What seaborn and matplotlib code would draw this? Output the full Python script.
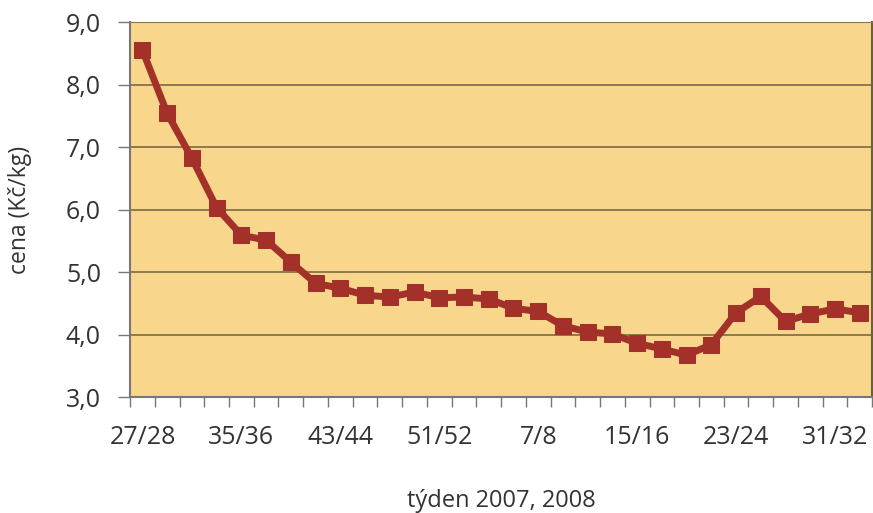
import numpy as np
import matplotlib
matplotlib.use("Agg")
import matplotlib.pyplot as plt
import seaborn as sns
import pandas as pd
from matplotlib.ticker import FixedLocator, FuncFormatter

# dvojtydny 27/28 (2007) az 33/34 (2008)
weeks = ["27/28", "29/30", "31/32", "33/34", "35/36", "37/38", "39/40", "41/42",
         "43/44", "45/46", "47/48", "49/50", "51/52", "1/2", "3/4", "5/6",
         "7/8", "9/10", "11/12", "13/14", "15/16", "17/18", "19/20", "21/22",
         "23/24", "25/26", "27/28", "29/30", "31/32", "33/34"]
price = [8.55, 7.54, 6.82, 6.03, 5.59, 5.51, 5.16, 4.82, 4.74, 4.63,
         4.60, 4.68, 4.59, 4.60, 4.57, 4.42, 4.37, 4.14, 4.04, 4.01,
         3.86, 3.77, 3.67, 3.84, 4.35, 4.61, 4.21, 4.33, 4.41, 4.35]
label_step = 4

df = pd.DataFrame({"idx": np.arange(len(weeks)), "week": weeks, "cena": price})

sns.set_style("white")
plt.rcParams["font.family"] = ["Open Sans", "DejaVu Sans"]

fig = plt.figure(figsize=(8.73, 5.13), dpi=100)
ax = fig.add_axes([0.149, 0.226, 0.850, 0.731])
ax.set_facecolor("#F8D78C")

ax.grid(False)
for yv in range(4, 9):
    ax.axhline(yv, color="#6E5F3C", lw=1.1, zorder=1)

sns.lineplot(data=df, x="idx", y="cena", ax=ax, color="#A4302A", lw=5,
             marker="s", markersize=12, markeredgecolor="#A4302A", zorder=3)

ax.set_xlim(-0.5, len(weeks) - 0.5)
ax.set_ylim(3, 9)
ax.set_yticks(np.arange(3, 10, 1))
ax.yaxis.set_major_formatter(FuncFormatter(lambda v, p: f"{v:.1f}".replace(".", ",")))

# popisky jen u kazdeho ctvrteho dvojtydne
label_pos = list(range(0, len(weeks) - 1, label_step))
ax.set_xticks(label_pos)
ax.set_xticklabels([weeks[i] for i in label_pos])
ax.xaxis.set_minor_locator(FixedLocator(np.arange(-0.5, len(weeks), 1)))
ax.tick_params(axis="x", which="major", length=0, pad=20, labelsize=18, labelcolor="#333333")
ax.tick_params(axis="x", which="minor", length=7, width=1, color="#777777", direction="out", bottom=True)
ax.tick_params(axis="y", which="major", length=9, width=1, color="#777777", direction="out", left=True,
               labelsize=18, labelcolor="#333333", pad=12)

for s in ["left", "bottom"]:
    ax.spines[s].set_color("#777777")
    ax.spines[s].set_linewidth(1.5)
ax.spines["top"].set_color("#8A7A50")
ax.spines["right"].set_color("#6E5F3C")
ax.spines["right"].set_linewidth(1.5)

ax.set_xlabel("týden 2007, 2008", fontsize=17, color="#333333", labelpad=28)
ax.set_ylabel("cena (Kč/kg)", fontsize=16.5, color="#333333", labelpad=24)

fig.savefig("out.png", dpi=100, facecolor="white")
